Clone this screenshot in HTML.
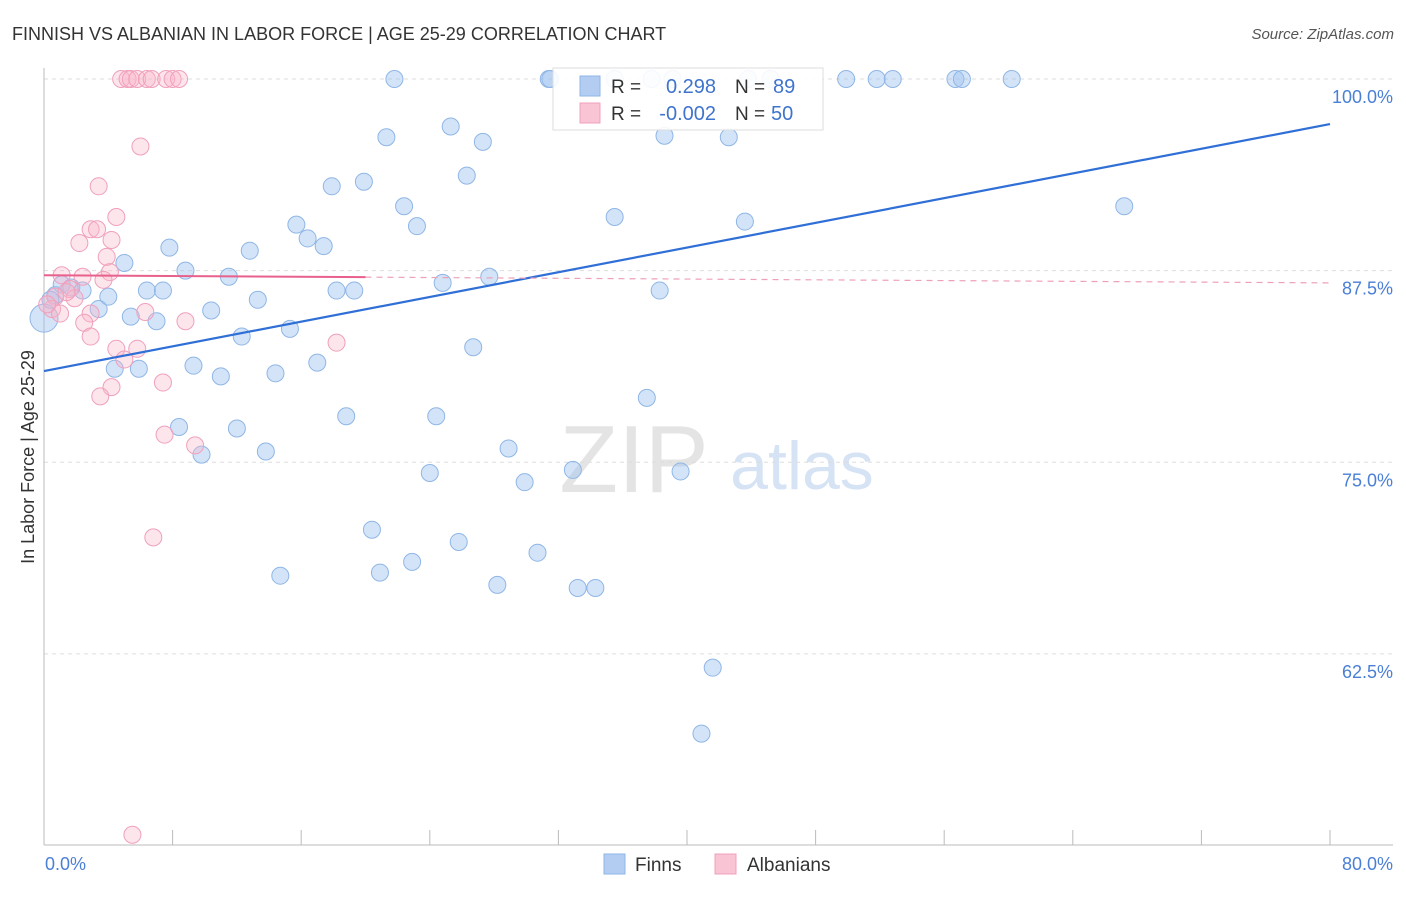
<!DOCTYPE html>
<html><head><meta charset="utf-8"><style>
body{margin:0;background:#fff;font-family:"Liberation Sans",sans-serif}
svg text{font-family:"Liberation Sans",sans-serif}
</style></head><body>
<svg id="chart" width="1406" height="892" xmlns="http://www.w3.org/2000/svg">
<text x="12" y="40" font-size="18" fill="#333">FINNISH VS ALBANIAN IN LABOR FORCE | AGE 25-29 CORRELATION CHART</text>
<text x="1394" y="39" font-size="15" fill="#555" font-style="italic" text-anchor="end">Source: ZipAtlas.com</text>
<text x="634" y="492" font-size="96" fill="#e4e4e4" font-family="Liberation Serif" text-anchor="middle">ZIP</text>
<text x="802" y="489" font-size="68" fill="#d6e3f5" text-anchor="middle">atlas</text>
<g id="grid"></g>
<g id="axes"></g>
<g id="pts"></g>
<g id="lines"></g>
<text transform="translate(34,457) rotate(-90)" font-size="18" fill="#333" text-anchor="middle">In Labor Force | Age 25-29</text>
<text x="45" y="870" font-size="18" fill="#4a7fd6">0.0%</text>
<text x="1393" y="870" font-size="18" fill="#4a7fd6" text-anchor="end">80.0%</text>
<g>
<rect x="553" y="68" width="270" height="62" fill="#fff" fill-opacity="0.9" stroke="#ddd"/>
<rect x="580" y="76" width="20" height="20" fill="#b3cdf2" stroke="#8fb6e6"/>
<rect x="580" y="103" width="20" height="20" fill="#f9c5d4" stroke="#f0a0bc"/>
<text x="611" y="93" font-size="19" fill="#333">R =</text><text x="716" y="93" font-size="20" fill="#3f74cc" text-anchor="end">0.298</text>
<text x="735" y="93" font-size="19" fill="#333">N =</text><text x="773" y="93" font-size="20" fill="#3f74cc">89</text>
<text x="611" y="120" font-size="19" fill="#333">R =</text><text x="716" y="120" font-size="20" fill="#3f74cc" text-anchor="end">-0.002</text>
<text x="735" y="120" font-size="19" fill="#333">N =</text><text x="771" y="120" font-size="20" fill="#3f74cc">50</text>
</g>
<g><rect x="604" y="854" width="21" height="20" fill="#b3cdf2" stroke="#8fb6e6"/><text x="635" y="871" font-size="19" fill="#333">Finns</text></g>
<g><rect x="715" y="854" width="21" height="20" fill="#f9c5d4" stroke="#f0a0bc"/><text x="747" y="871" font-size="19" fill="#333">Albanians</text></g>
</svg>
<script>
const yTicks=[100,87.5,75,62.5];
const yTickLabels=["100.0%","87.5%","75.0%","62.5%"];
const finnsX=[21.8,31.4,31.5,35.5,37.8,39.1,43.8,45.2,49.9,51.8,52.8,56.7,57.1,60.2,21.3,25.3,27.3,38.6,42.6,26.3,17.9,19.9,22.4,23.2,35.5,43.6,67.2,15.7,16.4,17.4,7.8,12.8,5.0,8.8,11.5,24.8,27.7,18.2,19.3,6.4,7.4,4.0,13.3,38.3,10.4,3.4,5.4,7.0,12.3,15.3,26.7,9.3,5.9,4.4,11.0,14.4,17.0,37.5,18.8,24.4,8.4,12.0,9.8,13.8,28.9,24.0,32.9,39.6,29.9,20.4,25.8,30.7,22.9,20.9,14.7,28.2,33.2,34.3,41.6,40.9,0.0,0.7,1.1,1.7,2.4,0.4];
const finnsY=[100,100,100,100,100,100,100,100,100,100,100,100,100,100,96.2,96.9,95.9,96.3,96.2,93.7,93.0,93.3,91.7,90.4,91.0,90.7,91.7,90.5,89.6,89.1,89.0,88.8,88.0,87.5,87.1,86.7,87.1,86.2,86.2,86.2,86.2,85.8,85.6,86.2,84.9,85.0,84.5,84.2,83.2,83.7,82.5,81.3,81.1,81.1,80.6,80.8,81.5,79.2,78.0,78.0,77.3,77.2,75.5,75.7,75.9,74.3,74.5,74.4,73.7,70.6,69.8,69.1,68.5,67.8,67.6,67.0,66.8,66.8,61.6,57.3,84.4,85.9,86.6,86.4,86.2,85.6];
const albX=[4.8,5.2,5.4,5.8,6.4,6.7,7.6,8.0,8.4,6.0,3.4,4.5,2.9,3.3,4.2,2.2,3.9,4.1,1.1,2.4,3.7,1.6,0.7,1.9,0.5,2.9,1.0,6.3,2.5,8.8,2.9,18.2,4.5,5.8,5.0,4.2,7.4,3.5,7.5,9.4,6.8,5.5,0.2,1.4];
const albY=[100,100,100,100,100,100,100,100,100,95.6,93.0,91.0,90.2,90.2,89.5,89.3,88.4,87.4,87.2,87.1,86.9,86.3,85.8,85.7,85.0,84.7,84.7,84.8,84.1,84.2,83.2,82.8,82.4,82.4,81.7,79.9,80.2,79.3,76.8,76.1,70.1,50.7,85.3,86.1];
const finnsTrend=[80.95,97.06];
const albTrend=[87.2,86.7];
const albSolidEnd=20;
const NS="http://www.w3.org/2000/svg";
const X=v=>44+v*16.075, Y=v=>79+(100-v)*15.33;
function mk(t,a,p){const e=document.createElementNS(NS,t);for(const k in a)e.setAttribute(k,a[k]);p.appendChild(e);return e;}
const g=document.getElementById('grid'),ax=document.getElementById('axes'),pts=document.getElementById('pts'),ln=document.getElementById('lines');
yTicks.forEach((t,i)=>{
 const l=mk('line',{x1:44,x2:1393,y1:Y(t),y2:Y(t),stroke:'#ddd','stroke-dasharray':'4,4'},g);
 
 
 const tx=mk('text',{x:1393,y:Y(t)+24,'font-size':18,fill:'#4a7fd6','text-anchor':'end'},g);tx.textContent=yTickLabels[i];
 
 
});
mk('line',{x1:44,x2:44,y1:68,y2:845,stroke:'#bbb'},ax);
mk('line',{x1:44,x2:1393,y1:845,y2:845,stroke:'#bbb'},ax);
for(let v=0;v<=80;v+=8){const t=mk('line',{x1:X(v),x2:X(v),y1:830,y2:845,stroke:'#bbb'},ax);
 
 }
function dots(xs,ys,fill,stroke,name){xs.forEach((x,i)=>{const big=(x===0&&ys[i]===84.4);
 const c=mk('circle',{cx:X(x),cy:Y(ys[i]),r:big?14:8.5,fill:fill,stroke:stroke,'stroke-width':1},pts);
 
 });}
dots(finnsX,finnsY,'rgba(160,196,240,0.45)','#8fb6e6','finns-point');
dots(albX,albY,'rgba(248,180,200,0.35)','#f0a0bc','albanians-point');
const bl=mk('line',{x1:X(0),y1:Y(finnsTrend[0]),x2:X(80),y2:Y(finnsTrend[1]),stroke:'#2f6fd6','stroke-width':2.2},ln);


const aAt=v=>albTrend[0]+(albTrend[1]-albTrend[0])*v/80;
const p1=mk('line',{x1:X(0),y1:Y(aAt(0)),x2:X(albSolidEnd),y2:Y(aAt(albSolidEnd)),stroke:'#e8608c','stroke-width':2},ln);


const p2=mk('line',{x1:X(albSolidEnd),y1:Y(aAt(albSolidEnd)),x2:X(80),y2:Y(aAt(80)),stroke:'#eea0b8','stroke-width':1.2,'stroke-dasharray':'6,5'},ln);


</script>
</body></html>
